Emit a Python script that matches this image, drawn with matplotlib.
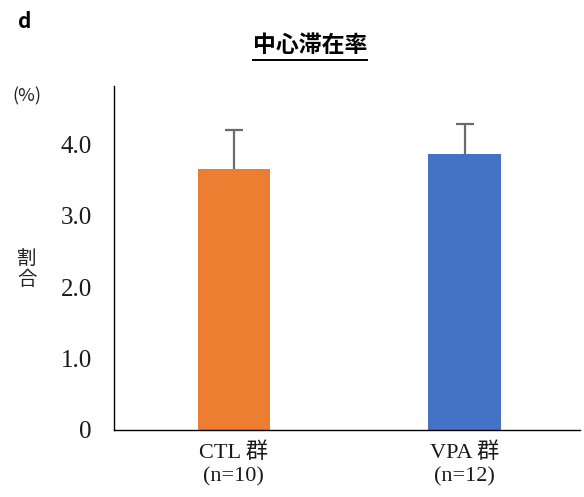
import matplotlib
matplotlib.use("Agg")
import matplotlib.pyplot as plt
from matplotlib.lines import Line2D

# Data
groups = ["CTL 群\n(n=10)", "VPA 群\n(n=12)"]
means = [3.66, 3.87]
errors = [0.55, 0.42]
colors = ["#ED7D31", "#4472C4"]
yticks = [0, 1.0, 2.0, 3.0, 4.0]
ytick_labels = ["0", "1.0", "2.0", "3.0", "4.0"]

serif = ["Liberation Serif", "Noto Sans CJK JP"]
cjk = ["Noto Sans CJK JP", "DejaVu Sans"]

fig = plt.figure(figsize=(5.84, 4.97), dpi=100)
ax = fig.add_axes([0.195, 0.135, 0.798, 0.692])

x = list(range(len(groups)))
ax.bar(x, means, width=0.315, color=colors, zorder=2)
# upper-only error bars
_, caps, _ = ax.errorbar(x, means, yerr=[[0] * len(errors), errors], fmt="none",
                         ecolor="#6b6b6b", elinewidth=1.6, capsize=6.5,
                         capthick=1.6, zorder=3)
caps[0].set_visible(False)

ax.set_xlim(-0.52, 1.5)
ax.set_ylim(0, 4.82)
ax.set_yticks(yticks)
ax.set_yticklabels(ytick_labels, fontfamily=serif, fontsize=18, color="#1a1a1a")
ax.set_xticks(x)
ax.set_xticklabels(groups, fontfamily=serif, fontsize=16, linespacing=1.3,
                   color="#1a1a1a")
ax.tick_params(axis="y", length=0, pad=16)
ax.tick_params(axis="x", length=0, pad=9)

for side in ("top", "right"):
    ax.spines[side].set_visible(False)
for side in ("left", "bottom"):
    ax.spines[side].set_color("black")
    ax.spines[side].set_linewidth(1.0)

# Panel letter, unit and axis caption
fig.text(25 / 584, 1 - 22 / 497, "d", fontsize=15, fontweight="bold",
         family=cjk, ha="center", va="center")
fig.text(27 / 584, 1 - 96 / 497, "(%)", fontsize=13, family=cjk,
         ha="center", va="center", color="#222222")
fig.text(27 / 584, 1 - 269 / 497, "割\n合", fontsize=14, family=cjk,
         ha="center", va="center", linespacing=0.95, color="#222222")

# Underlined title
title = fig.text(310 / 584, 1 - 45 / 497, "中心滞在率", fontsize=16.5,
                 fontweight="bold", family=cjk, ha="center", va="center")
fig.canvas.draw()
bb = title.get_window_extent().transformed(fig.transFigure.inverted())
uy = 1 - 60 / 497
fig.add_artist(Line2D([bb.x0, bb.x1], [uy, uy], transform=fig.transFigure,
                      color="black", linewidth=1.4))

fig.savefig("out.png", dpi=100)
